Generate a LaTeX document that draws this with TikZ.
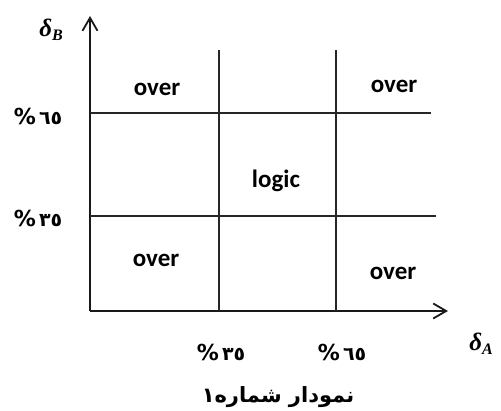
\documentclass[tikz,border=0pt]{standalone}
\usepackage{fontspec}
\setmainfont{Carlito}
\newfontfamily\arabicfont[Script=Arabic]{DejaVu Sans}
\newfontfamily\dejavu{DejaVu Sans}
\newfontfamily\serifbi{Liberation Serif}
\TeXXeTstate=1
\usetikzlibrary{arrows.meta}
\newcommand{\pctdigits}[1]{{\arabicfont\fontsize{19}{23}\selectfont\,#1}}
\begin{document}
\begin{tikzpicture}[x=1pt,y=-1pt,
  axis/.style={line width=2.2pt,draw=black!90,-{Straight Barb[length=13pt,width=15pt,line width=1.8pt]}},
  gridline/.style={line width=1.4pt,draw=black!85},
  region/.style={inner sep=0pt,font=\fontsize{25}{30}\selectfont\bfseries},
  pct/.style={inner sep=0pt,font=\dejavu\bfseries\fontsize{22}{26}\selectfont},
  axlabel/.style={inner sep=0pt,font=\serifbi\bfseries\itshape\fontsize{25}{30}\selectfont},
  caption/.style={inner sep=0pt,font=\arabicfont\bfseries\fontsize{21}{25}\selectfont}]
\useasboundingbox (0,0) rectangle (501,411);
% axes
\coordinate (O) at (90,311);
\coordinate (Ytip) at (90,16);
\coordinate (Xtip) at (448,311);
\draw[axis] (O) -- (Ytip);
\draw[axis] (O) -- (Xtip);
% grid lines
\coordinate (v1t) at (219,50);
\coordinate (v1b) at (219,311);
\coordinate (v2t) at (336,50);
\coordinate (v2b) at (336,311);
\coordinate (h1l) at (90,113);
\coordinate (h1r) at (431,113);
\coordinate (h2l) at (90,216);
\coordinate (h2r) at (436,216);
\draw[gridline] (v1t) -- (v1b);
\draw[gridline] (v2t) -- (v2b);
\draw[gridline] (h1l) -- (h1r);
\draw[gridline] (h2l) -- (h2r);
% region labels
\node[region] (ovTL) at (157,89) {over};
\node[region] (ovTR) at (394,86) {over};
\node[region] (ovBL) at (156,260) {over};
\node[region] (ovBR) at (393,273) {over};
\node[region] (lg) at (276,181) {logic};
% percent labels
\node[pct] (pB65) at (38,116) {\%\pctdigits{٦٥}};
\node[pct] (pB35) at (38,218) {\%\pctdigits{٣٥}};
\node[pct] (pA35) at (221,352) {\%\pctdigits{٣٥}};
\node[pct] (pA65) at (342,352) {\%\pctdigits{٦٥}};
% axis labels
\node[axlabel] (dB) at (51,30) {δ\raisebox{-0.35ex}{\fontsize{16}{18}\selectfont B}};
\node[axlabel] (dA) at (481,344) {δ\raisebox{-0.35ex}{\fontsize{16}{18}\selectfont A}};
% caption
\node[caption] (cap) at (278,397) {\beginR نمودار شماره١\endR};
\end{tikzpicture}
\end{document}
